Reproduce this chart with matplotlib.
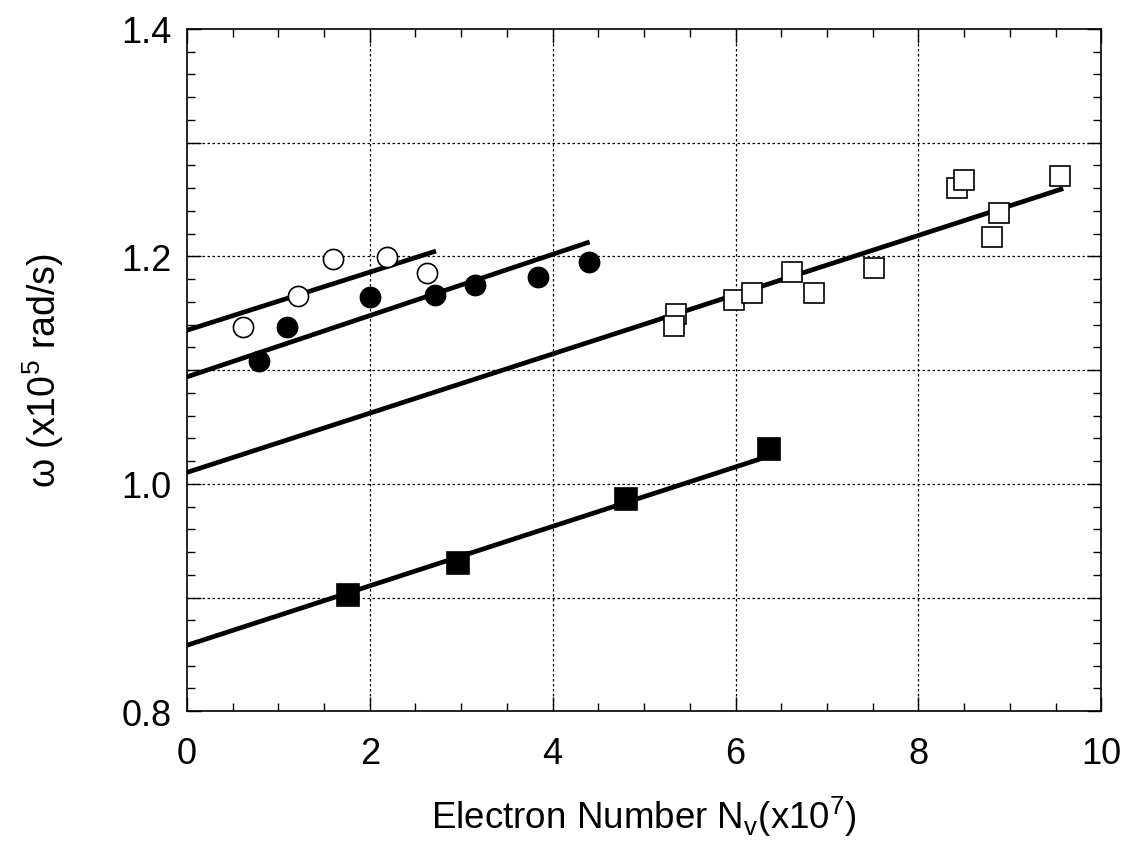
import matplotlib
matplotlib.use("Agg")
import matplotlib.pyplot as plt
from matplotlib.ticker import MultipleLocator

# open circles
oc_x = [0.61, 1.21, 1.60, 2.19, 2.63]
oc_y = [1.138, 1.165, 1.198, 1.199, 1.185]
oc_fit_x = [0.0, 2.70]
oc_fit_y = [1.135, 1.204]

# filled circles
fc_x = [0.79, 1.10, 2.00, 2.71, 3.15, 3.84, 4.40]
fc_y = [1.108, 1.138, 1.164, 1.166, 1.175, 1.182, 1.195]
fc_fit_x = [0.0, 4.38]
fc_fit_y = [1.094, 1.212]

# open squares
os_x = [5.35, 5.33, 5.98, 6.18, 6.62, 6.86, 7.52, 8.42, 8.50, 8.88, 8.81, 9.55]
os_y = [1.149, 1.139, 1.162, 1.168, 1.186, 1.168, 1.190, 1.260, 1.267, 1.238, 1.217, 1.271]
os_fit_x = [0.0, 9.56]
os_fit_y = [1.010, 1.259]

# filled squares
fs_x = [1.76, 2.97, 4.80, 6.37]
fs_y = [0.902, 0.930, 0.987, 1.031]
fs_fit_x = [0.0, 6.39]
fs_fit_y = [0.858, 1.025]

plt.rcParams['font.family'] = ['Liberation Sans', 'DejaVu Sans']

fig = plt.figure(figsize=(11.26, 8.54), dpi=100)
ax = fig.add_axes([0.166, 0.166, 0.812, 0.799])

ax.set_xlim(0, 10)
ax.set_ylim(0.8, 1.4)

# dotted grid
for gx in [2, 4, 6, 8]:
    ax.axvline(gx, color='black', linestyle=(0, (2, 2)), linewidth=0.9, zorder=1)
for gy in [0.9, 1.0, 1.1, 1.2, 1.3]:
    ax.axhline(gy, color='black', linestyle=(0, (2, 2)), linewidth=0.9, zorder=1)

lw = 3.4
ax.plot(oc_fit_x, oc_fit_y, color='black', linewidth=lw, zorder=2)
ax.plot(fc_fit_x, fc_fit_y, color='black', linewidth=lw, zorder=2)
ax.plot(os_fit_x, os_fit_y, color='black', linewidth=lw, zorder=2)
ax.plot(fs_fit_x, fs_fit_y, color='black', linewidth=lw, zorder=2)

ax.plot(oc_x, oc_y, 'o', ms=14.5, mfc='white', mec='black', mew=1.2, zorder=3)
ax.plot(fc_x, fc_y, 'o', ms=14.5, mfc='black', mec='black', mew=1.2, zorder=3)
ax.plot(os_x, os_y, 's', ms=14.5, mfc='white', mec='black', mew=1.2, zorder=3)
ax.plot(fs_x, fs_y, 's', ms=15.5, mfc='black', mec='black', mew=1.2, zorder=3)

ax.set_xticks([0, 2, 4, 6, 8, 10])
ax.xaxis.set_minor_locator(MultipleLocator(0.5))
ax.set_yticks([0.8, 0.9, 1.0, 1.1, 1.2, 1.3, 1.4])
ax.set_yticklabels(['0.8', '', '1.0', '', '1.2', '', '1.4'])
ax.yaxis.set_minor_locator(MultipleLocator(0.02))

ax.tick_params(which='both', direction='in', top=True, right=True, width=1.0)
ax.tick_params(which='major', length=10)
ax.tick_params(which='minor', length=6)
ax.tick_params(axis='x', which='major', labelsize=26, pad=18)
ax.tick_params(axis='y', which='major', labelsize=26, pad=11)

for sp in ax.spines.values():
    sp.set_linewidth(1.2)

ax.set_xlabel(r'Electron Number N$_\mathregular{v}$(x10$^\mathregular{7}$)',
              fontsize=26.5, labelpad=16)
ax.set_ylabel(r'ω (x10$^\mathregular{5}$ rad/s)', fontsize=27, labelpad=40)

fig.savefig('out.png', dpi=100)
